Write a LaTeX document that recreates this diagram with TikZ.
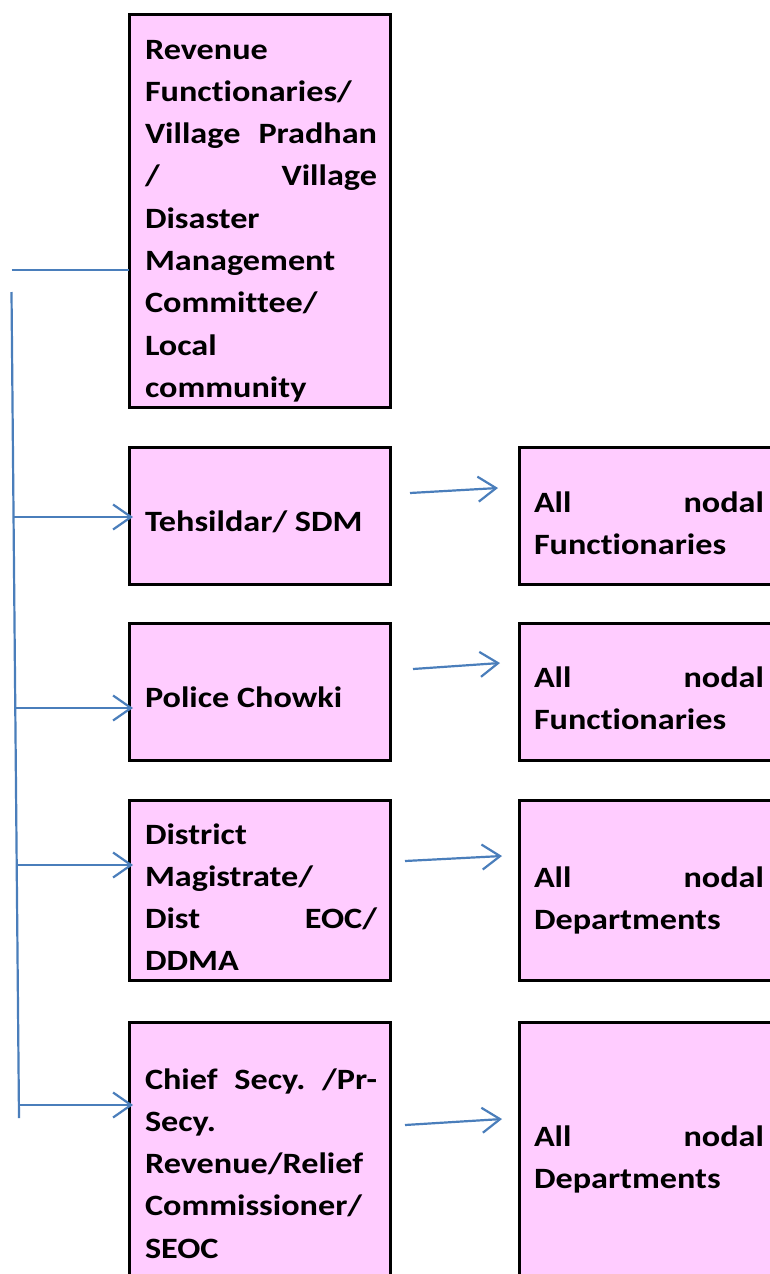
\documentclass[tikz,border=0pt]{standalone}
\usepackage{fontspec}
\setmainfont{Carlito}[FakeStretch=1.16, Ligatures=CommonOff]
\usetikzlibrary{arrows.meta,calc}
\definecolor{boxpink}{HTML}{FFCCFF}
\definecolor{lineblue}{HTML}{4A7EBB}
\newcommand{\jl}[2]{\makebox[#1][s]{#2}}
\frenchspacing
\tikzset{
  box/.style={draw=black, line width=3pt, fill=boxpink, inner sep=0pt, outer sep=0pt,
    anchor=north west, minimum width=261.5pt},
  txt/.style={inner sep=0pt, outer sep=0pt, anchor=base west,
    font=\fontsize{29.5}{42.3}\selectfont\bfseries\frenchspacing},
  conn/.style={draw=lineblue, line width=2.2pt},
  arr/.style={conn, -{Straight Barb[length=18pt,width=25pt]}}
}
\begin{document}
\begin{tikzpicture}[x=1pt,y=-1pt]
\clip (0,0) rectangle (770,1274);
\fill[white] (0,0) rectangle (770,1274);
% left boxes
\node[box, minimum height=392.5pt] (b1) at (129,14.5) {};
\node[box, minimum height=137pt] (b2) at (129,447) {};
\node[box, minimum height=137pt] (b3) at (129,623.5) {};
\node[box, minimum height=180pt] (b4) at (129,800.5) {};
\node[box, minimum height=270pt] (b5) at (129,1022) {};
% right boxes
\node[box, minimum height=137pt] (r2) at (519,447) {};
\node[box, minimum height=137pt] (r3) at (519,623.5) {};
\node[box, minimum height=180pt] (r4) at (519,800.5) {};
\node[box, minimum height=270pt] (r5) at (519,1022) {};
% texts
\node[txt] (t1) at (145,59) {\parbox[t]{232pt}{Revenue\\Functionaries/\\\jl{232pt}{Village Pradhan}\\\jl{232pt}{/ Village}\\Disaster\\Management\\Committee/\\Local\\community}};
\node[txt] (t2) at (145,531) {\parbox[t]{232pt}{Tehsildar/ SDM}};
\node[txt] (t3) at (145,707) {\parbox[t]{232pt}{Police Chowki}};
\node[txt] (t4) at (145,844) {\parbox[t]{232pt}{District\\Magistrate/\\\jl{232pt}{Dist EOC/}\\DDMA}};
\node[txt] (t5) at (145,1089) {\parbox[t]{232pt}{\jl{232pt}{Chief Secy. /Pr-}\\Secy.\\Revenue/Relief\\Commissioner/\\SEOC}};
\node[txt] (u2) at (534,512) {\parbox[t]{230pt}{\jl{230pt}{All nodal}\\Functionaries}};
\node[txt] (u3) at (534,687) {\parbox[t]{230pt}{\jl{230pt}{All nodal}\\Functionaries}};
\node[txt] (u4) at (534,887) {\parbox[t]{230pt}{\jl{230pt}{All nodal}\\Departments}};
\node[txt] (u5) at (534,1146) {\parbox[t]{230pt}{\jl{230pt}{All nodal}\\Departments}};
% left connectors
\coordinate (top) at (11.5,270);
\coordinate (vtop) at (11.5,292);
\coordinate (vbot) at (19,1118);
\coordinate (v2) at (13.5,517);
\coordinate (v3) at (15.3,708);
\coordinate (v4) at (16.7,865);
\coordinate (v5) at (18.9,1105);
\draw[conn] (top) -- (top -| b1.west);
\draw[conn] (vtop) -- (vbot);
\draw[arr] (v2) -- ($(v2 -| b2.west)+(4,0)$);
\draw[arr] (v3) -- ($(v3 -| b3.west)+(4,0)$);
\draw[arr] (v4) -- ($(v4 -| b4.west)+(4,0)$);
\draw[arr] (v5) -- ($(v5 -| b5.west)+(4,0)$);
% right connectors
\coordinate (s2) at (410,493); \coordinate (e2) at (498,488);
\coordinate (s3) at (413,669); \coordinate (e3) at (500,663);
\coordinate (s4) at (405,861); \coordinate (e4) at (502,856);
\coordinate (s5) at (405,1125); \coordinate (e5) at (502,1119);
\draw[arr] (s2) -- (e2);
\draw[arr] (s3) -- (e3);
\draw[arr] (s4) -- (e4);
\draw[arr] (s5) -- (e5);
\end{tikzpicture}
\end{document}
